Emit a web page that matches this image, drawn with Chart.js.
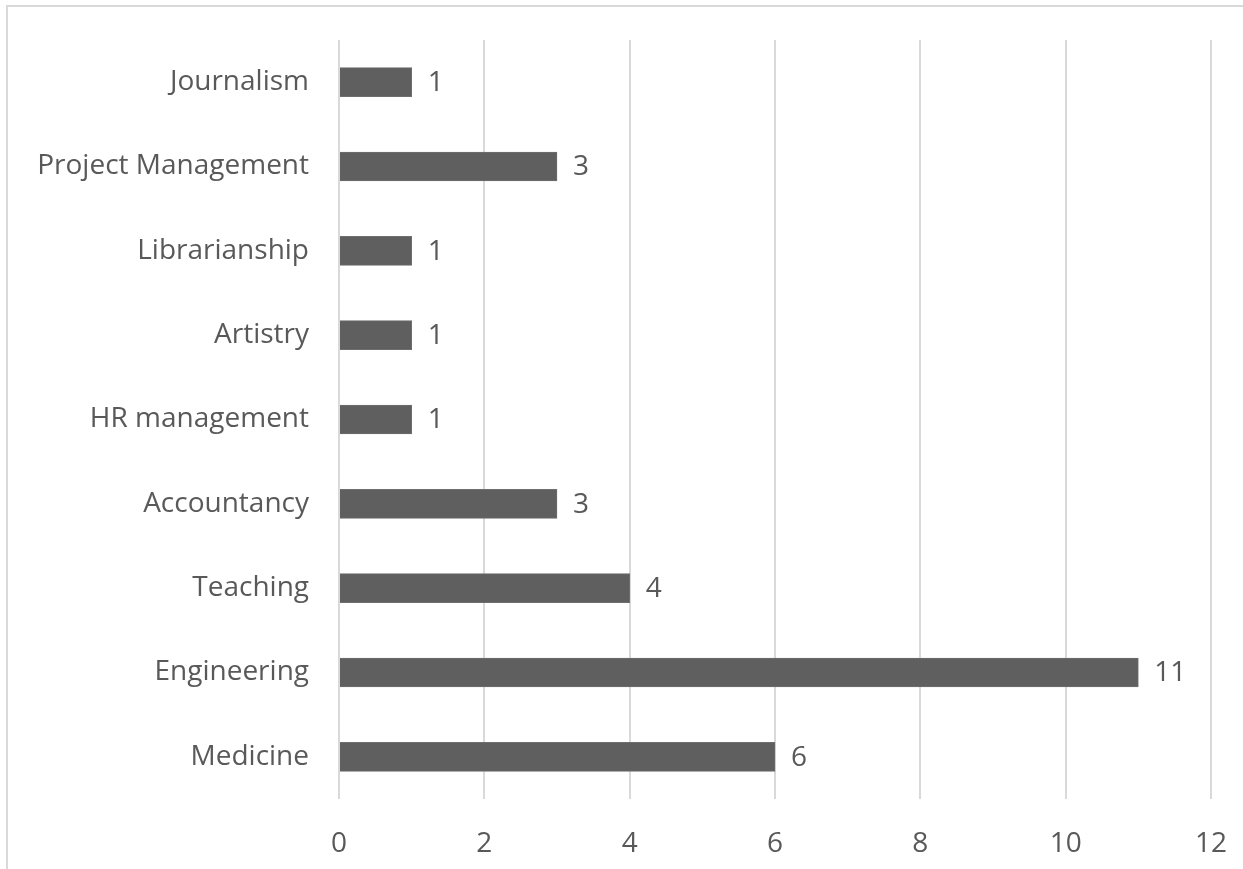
<!DOCTYPE html>
<html>
<head>
<meta charset="utf-8">
<script src="https://cdn.jsdelivr.net/npm/chart.js@4/dist/chart.umd.min.js"></script>
<style>
  html, body { margin: 0; padding: 0; background: #ffffff; }
  #frame { position: absolute; left: 6px; top: 5px; width: 1245px; height: 880px; border: 2px solid #d9d9d9; box-sizing: border-box; }
  #wrap { position: absolute; left: 0; top: 0; width: 1243px; height: 869px; }
</style>
</head>
<body>
<div id="frame"></div>
<div id="wrap"><canvas id="c" width="1243" height="869"></canvas></div>
<script>
const categories = ["Journalism", "Project Management", "Librarianship", "Artistry", "HR management", "Accountancy", "Teaching", "Engineering", "Medicine"];
const counts = [1, 3, 1, 1, 1, 3, 4, 11, 6];
const xTicks = [0, 2, 4, 6, 8, 10, 12];

const FONT = "'Open Sans', 'Noto Sans', sans-serif";
const TEXT = "#595959";

// value labels drawn just past the end of each bar
const valueLabels = {
  id: "valueLabels",
  afterDatasetsDraw(chart) {
    const { ctx } = chart;
    const meta = chart.getDatasetMeta(0);
    ctx.save();
    ctx.font = "28px " + FONT;
    ctx.fillStyle = TEXT;
    ctx.textAlign = "left";
    ctx.textBaseline = "middle";
    meta.data.forEach((bar, i) => {
      ctx.fillText(String(counts[i]), bar.x + 16, bar.y + 1);
    });
    ctx.restore();
  }
};

new Chart(document.getElementById("c"), {
  type: "bar",
  data: {
    labels: categories,
    datasets: [{
      data: counts,
      backgroundColor: "#5f5f5f",
      borderColor: "#6e6e6e",
      borderWidth: 1,
      barThickness: 29
    }]
  },
  options: {
    indexAxis: "y",
    responsive: false,
    animation: false,
    layout: { padding: { left: 0, right: 32, top: 40, bottom: 0 } },
    plugins: { legend: { display: false }, tooltip: { enabled: false } },
    scales: {
      x: {
        min: 0,
        max: 12,
        afterBuildTicks(scale) { scale.ticks = xTicks.map(v => ({ value: v })); },
        grid: { color: "#d9d9d9", lineWidth: 2, drawTicks: false },
        border: { display: false },
        ticks: { color: TEXT, font: { family: FONT, size: 28 }, padding: 28 },
        afterFit(scale) {
          scale.height = 70;
          scale.paddingLeft = 0;
          scale.paddingRight = 0;
        }
      },
      y: {
        grid: { display: false },
        border: { display: false },
        ticks: { color: TEXT, font: { family: FONT, size: 28 }, padding: 22 },
        afterFit(scale) {
          scale.width = 339;
          scale.paddingTop = 0;
          scale.paddingBottom = 0;
        }
      }
    }
  },
  plugins: [valueLabels]
});
</script>
</body>
</html>
